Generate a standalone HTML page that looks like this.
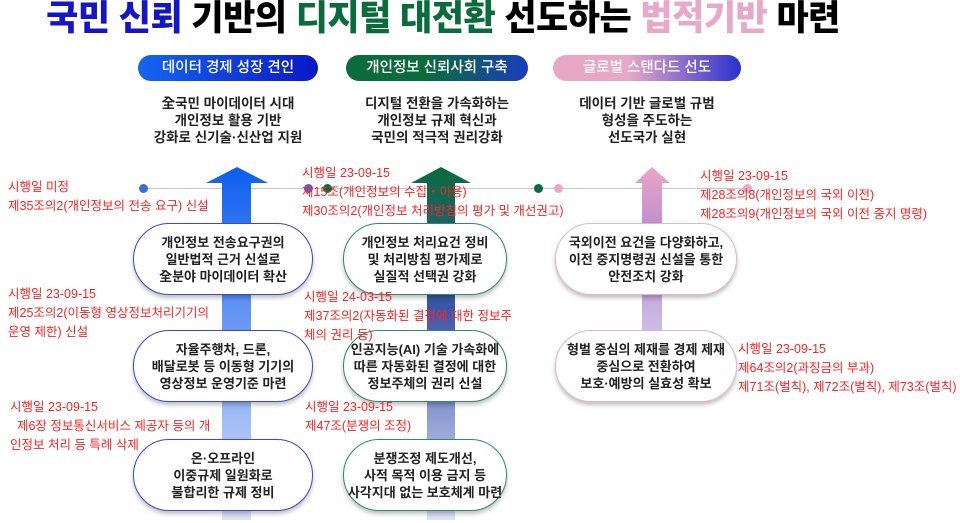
<!DOCTYPE html>
<html><head><meta charset="utf-8"><style>
*{margin:0;padding:0;box-sizing:border-box}
body{width:960px;height:523px;background:#fff;position:relative;overflow:hidden;font-family:"Liberation Sans","Noto Sans CJK KR",sans-serif}
.a{position:absolute;white-space:nowrap}
.title{left:0;width:886px;text-align:center;top:0;font-size:35px;font-weight:900;letter-spacing:-0.5px;line-height:38px}
.pill{position:absolute;top:55px;height:26px;border-radius:13px;color:#fff;font-size:14.5px;text-align:center;line-height:26px;font-weight:500}
.desc{position:absolute;top:95px;font-size:13.5px;line-height:17px;text-align:center;color:#222;font-weight:600}
.ov{position:absolute;border-radius:36px/36px;background:#fff;display:flex;align-items:center;justify-content:center;text-align:center;font-size:13px;line-height:17px;color:#222;font-weight:600;box-shadow:0 3px 4px rgba(0,0,0,.25)}
.r{position:absolute;color:#f22;font-size:12.5px;line-height:19px;white-space:nowrap}
.dot{position:absolute;width:9px;height:9px;border-radius:50%;top:184px}
</style></head><body>
<div class="a title"><span style="color:#1515c8">국민 신뢰</span> 기반의 <span style="color:#0a6b3c">디지털 대전환</span> 선도하는 <span style="color:#e7a9c7">법적기반</span> 마련</div>

<div class="pill" style="left:138px;width:180px;background:linear-gradient(90deg,#1565f0,#0a18c8)">데이터 경제 성장 견인</div>
<div class="pill" style="left:346px;width:182px;background:linear-gradient(90deg,#0a6b3c 45%,#1a3cc0)">개인정보 신뢰사회 구축</div>
<div class="pill" style="left:553px;width:188px;background:linear-gradient(90deg,#e9a7c6 40%,#2a30d0)">글로벌 스탠다드 선도</div>

<div class="desc" style="left:133px;width:190px">全국민 마이데이터 시대<br>개인정보 활용 기반<br>강화로 신기술·신산업 지원</div>
<div class="desc" style="left:341px;width:192px">디지털 전환을 가속화하는<br>개인정보 규제 혁신과<br>국민의 적극적 권리강화</div>
<div class="desc" style="left:548px;width:198px">데이터 기반 글로벌 규범<br>형성을 주도하는<br>선도국가 실현</div>

<div class="a" style="left:143px;top:188px;width:605px;height:1px;background:#c8c8d8"></div>
<div class="dot" style="left:139px;background:#3a6ae8"></div>
<div class="dot" style="left:304px;background:#3a6ae8"></div>
<div class="dot" style="left:323px;background:#0a6b3c"></div>
<div class="dot" style="left:534px;background:#0a6b3c"></div>
<div class="dot" style="left:554px;background:#e7a9c7"></div>
<div class="dot" style="left:743px;background:#e7a9c7"></div>

<svg class="a" style="left:0;top:0" width="960" height="523">
<defs>
<linearGradient id="gb" x1="0" y1="0" x2="0" y2="1"><stop offset="0" stop-color="#0c5ef0"/><stop offset="1" stop-color="#dde2f8"/></linearGradient>
<linearGradient id="gg" x1="0" y1="0" x2="0" y2="1"><stop offset="0" stop-color="#0a6b3c"/><stop offset=".4" stop-color="#3a55a8"/><stop offset="1" stop-color="#dde2f8"/></linearGradient>
<linearGradient id="gp" x1="0" y1="0" x2="0" y2="1"><stop offset="0" stop-color="#eaa6c4"/><stop offset=".3" stop-color="#b88ad0"/><stop offset="1" stop-color="#dde2f8"/></linearGradient>
</defs>
<polygon points="206,183 237,167 268,183 251,183 251,520 222,520 222,183" fill="url(#gb)"/>
<polygon points="411,183 441,167 471,183 455,183 455,520 427,520 427,183" fill="url(#gg)"/>
<polygon points="635,183 652,167 670,183 662,183 662,400 642,400 642,183" fill="url(#gp)"/>
</svg>

<div class="ov" style="left:133px;top:223px;width:180px;height:72px;border:1.5px solid #3a4ad0">개인정보 전송요구권의<br>일반법적 근거 신설로<br>全분야 마이데이터 확산</div>
<div class="ov" style="left:133px;top:330px;width:180px;height:72px;border:1.5px solid #3a4ad0">자율주행차, 드론,<br>배달로봇 등 이동형 기기의<br>영상정보 운영기준 마련</div>
<div class="ov" style="left:133px;top:439px;width:180px;height:72px;border:1.5px solid #3a4ad0">온·오프라인<br>이중규제 일원화로<br>불합리한 규제 정비</div>
<div class="ov" style="left:343px;top:223px;width:164px;height:72px;border:1.5px solid #2f8a6a">개인정보 처리요건 정비<br>및 처리방침 평가제로<br>실질적 선택권 강화</div>
<div class="ov" style="left:343px;top:330px;width:164px;height:72px;border:1.5px solid #2f8a6a">인공지능(AI) 기술 가속화에<br>따른 자동화된 결정에 대한<br>정보주체의 권리 신설</div>
<div class="ov" style="left:343px;top:439px;width:164px;height:72px;border:1.5px solid #2f8a6a">분쟁조정 제도개선,<br>사적 목적 이용 금지 등<br>사각지대 없는 보호체계 마련</div>
<div class="ov" style="left:555px;top:223px;width:182px;height:72px;border:1.5px solid #e0b8cc">국외이전 요건을 다양화하고,<br>이전 중지명령권 신설을 통한<br>안전조치 강화</div>
<div class="ov" style="left:555px;top:330px;width:182px;height:72px;border:1.5px solid #e0b8cc">형벌 중심의 제재를 경제 제재<br>중심으로 전환하여<br>보호·예방의 실효성 확보</div>

<div class="r" style="left:8px;top:178px">시행일 미정<br>제35조의2(개인정보의 전송 요구) 신설</div>
<div class="r" style="left:302px;top:164px">시행일 23-09-15<br>제15조(개인정보의 수집・이용)<br>제30조의2(개인정보 처리방침의 평가 및 개선권고)</div>
<div class="r" style="left:8px;top:285px">시행일 23-09-15<br>제25조의2(이동형 영상정보처리기기의<br>운영 제한) 신설</div>
<div class="r" style="left:304px;top:288px">시행일 24-03-15<br>제37조의2(자동화된 결정에 대한 정보주<br>체의 권리 등)</div>
<div class="r" style="left:10px;top:398px">시행일 23-09-15<br>&nbsp;&nbsp;제6장 정보통신서비스 제공자 등의 개<br>인정보 처리 등 특례 삭제</div>
<div class="r" style="left:305px;top:398px">시행일 23-09-15<br>제47조(분쟁의 조정)</div>
<div class="r" style="left:700px;top:167px">시행일 23-09-15<br>제28조의8(개인정보의 국외 이전)<br>제28조의9(개인정보의 국외 이전 중지 명령)</div>
<div class="r" style="left:738px;top:340px">시행일 23-09-15<br>제64조의2(과징금의 부과)<br>제71조(벌칙), 제72조(벌칙), 제73조(벌칙)</div>
</body></html>
